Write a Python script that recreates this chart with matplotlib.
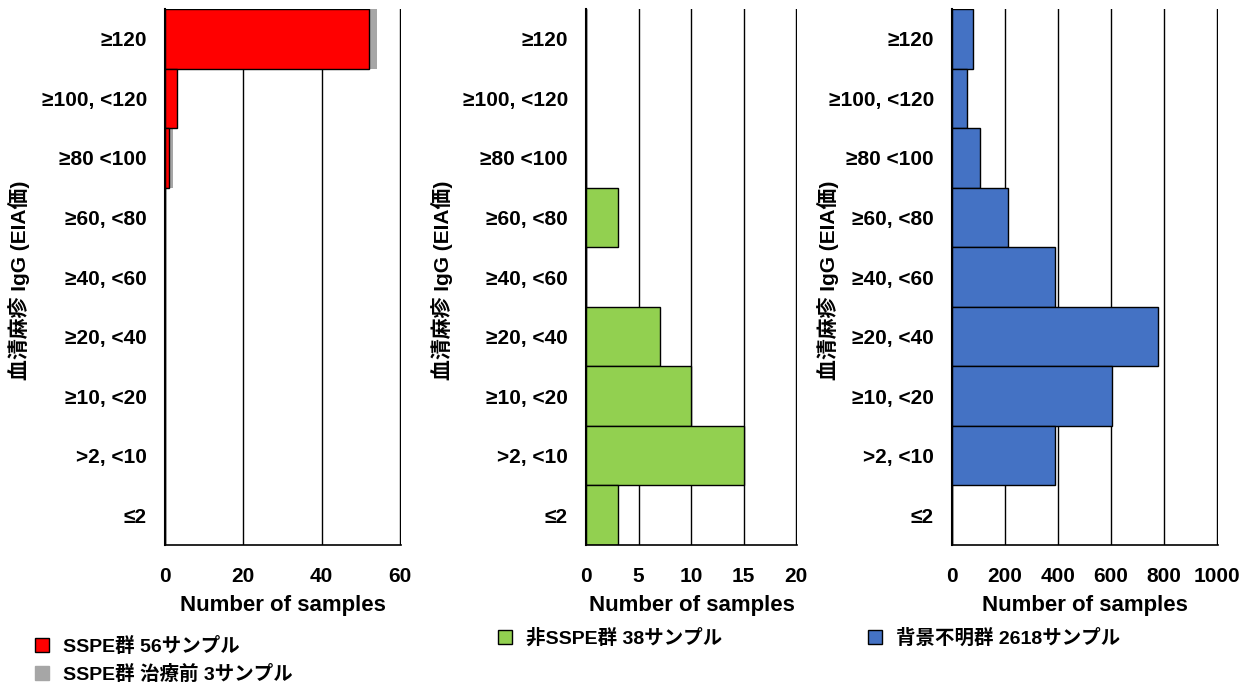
import matplotlib.pyplot as plt
from matplotlib.lines import Line2D
import numpy as np

plt.rcParams['font.family'] = ['Liberation Sans', 'Noto Sans CJK JP', 'DejaVu Sans']
plt.rcParams['font.weight'] = 'bold'

# categories, top to bottom
categories = ["≥120", "≥100, <120", "≥80 <100", "≥60, <80", "≥40, <60",
              "≥20, <40", "≥10, <20", ">2, <10", "≤2"]
sspe = [52, 3, 1, 0, 0, 0, 0, 0, 0]
sspe_pre = [2, 0, 1, 0, 0, 0, 0, 0, 0]
non_sspe = [0, 0, 0, 3, 0, 7, 10, 15, 3]
unknown = [79, 57, 104, 213, 388, 776, 605, 388, 0]

ylabel = "血清麻疹 IgG (EIA価)"
xlabel = "Number of samples"

fig = plt.figure(figsize=(12.52, 6.89), dpi=100)
H = 689
W = 1252
FS = 15

def make_ax(x0, x1):
    return fig.add_axes([x0 / W, (H - 545) / H, (x1 - x0) / W, 536 / H])

ax1 = make_ax(165, 401)
ax2 = make_ax(586, 797)
ax3 = make_ax(952, 1218)

y = np.arange(len(categories))[::-1]

def style(ax, xmax, step, labelx):
    ax.set_xlim(0, xmax * 1.004)
    ax.set_ylim(-0.5, len(categories) - 0.5)
    ax.set_xticks(np.arange(0, xmax + 1, step))
    ax.set_yticks(y)
    ax.set_yticklabels(categories)
    for s in ["top", "right"]:
        ax.spines[s].set_visible(False)
    ax.spines["left"].set_linewidth(1.5)
    ax.spines["bottom"].set_linewidth(1.2)
    ax.tick_params(length=0, labelsize=FS)
    ax.tick_params(axis="x", pad=16)
    ax.tick_params(axis="y", pad=13)
    ax.xaxis.grid(True, color="black", linewidth=1)
    ax.set_axisbelow(True)
    ax.set_xlabel(xlabel, fontsize=FS + 1, fontweight="bold", labelpad=6)
    ax.set_ylabel(ylabel, fontsize=FS, fontweight="bold")
    ax.yaxis.set_label_coords(labelx, 1 - 280 / H, transform=fig.transFigure)

# left panel
ax1.barh(y, np.array(sspe) + np.array(sspe_pre), height=1.0, color="#a6a6a6")
ax1.barh(y, sspe, height=1.0, color="#ff0000", edgecolor="black", linewidth=1)
style(ax1, 60, 20, 30 / W)

# middle panel
ax2.barh(y, non_sspe, height=1.0, color="#92d050", edgecolor="black", linewidth=1)
style(ax2, 20, 5, 453 / W)

# right panel
ax3.barh(y, unknown, height=1.0, color="#4472c4", edgecolor="black", linewidth=1)
style(ax3, 1000, 200, 839 / W)

def legend(ax, items, x, ytop):
    handles = [Line2D([], [], marker="s", linestyle="none", markersize=10,
                      markerfacecolor=c, markeredgecolor=e, markeredgewidth=1)
               for c, e, _ in items]
    labels = [t for _, _, t in items]
    ax.legend(handles, labels, loc="upper left", bbox_to_anchor=(x / W, 1 - ytop / H),
              bbox_transform=fig.transFigure, frameon=False, fontsize=FS - 1,
              handletextpad=0.6, labelspacing=0.45, handlelength=1.0,
              borderaxespad=0, borderpad=0)

legend(ax1, [("#ff0000", "black", "SSPE群 56サンプル"),
             ("#a6a6a6", "#a6a6a6", "SSPE群 治療前 3サンプル")], 32, 637)
legend(ax2, [("#92d050", "black", "非SSPE群 38サンプル")], 495, 629)
legend(ax3, [("#4472c4", "black", "背景不明群 2618サンプル")], 865, 629)

fig.savefig("out.png", dpi=100)
